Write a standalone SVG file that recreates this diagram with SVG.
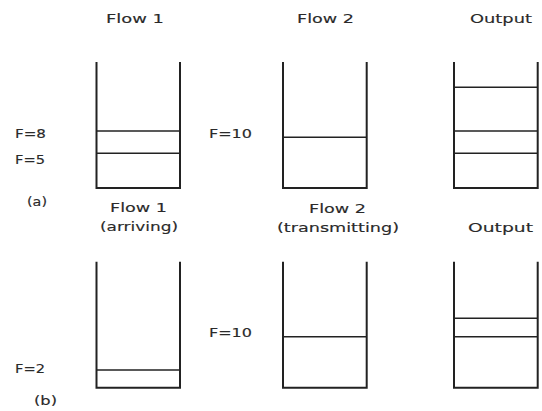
<svg xmlns="http://www.w3.org/2000/svg" width="542" height="411" viewBox="0 0 542 411">
  <style>
    .buf { fill: none; stroke: #222; stroke-width: 2; stroke-linejoin: miter; stroke-linecap: butt; }
    .pkt { stroke: #222; stroke-width: 1.6; }
    text { font-family: "DejaVu Sans", "Liberation Sans", sans-serif; font-size: 13px; fill: #2a2a2a; stroke: #2a2a2a; stroke-width: 0.15; }
  </style>
  <rect width="542" height="411" fill="#ffffff"/>

  <!-- (a) row -->
  <g id="flow1-a">
    <text x="106" y="23" textLength="58" lengthAdjust="spacingAndGlyphs">Flow 1</text>
    <path class="buf" d="M96.5,62 V188 H180 V62"/>
    <line class="pkt" x1="96.5" y1="131" x2="180" y2="131"/>
    <line class="pkt" x1="96.5" y1="153.3" x2="180" y2="153.3"/>
    <text x="15" y="138" textLength="31" lengthAdjust="spacingAndGlyphs">F=8</text>
    <text x="15" y="164" textLength="30" lengthAdjust="spacingAndGlyphs">F=5</text>
  </g>
  <g id="flow2-a">
    <text x="297" y="23" textLength="57" lengthAdjust="spacingAndGlyphs">Flow 2</text>
    <path class="buf" d="M283,62 V188 H366.7 V62"/>
    <line class="pkt" x1="283" y1="137.3" x2="366.7" y2="137.3"/>
    <text x="209" y="138" textLength="43" lengthAdjust="spacingAndGlyphs">F=10</text>
  </g>
  <g id="output-a">
    <text x="470" y="23" textLength="62" lengthAdjust="spacingAndGlyphs">Output</text>
    <path class="buf" d="M454,62 V188 H537.7 V62"/>
    <line class="pkt" x1="454" y1="87.3" x2="537.7" y2="87.3"/>
    <line class="pkt" x1="454" y1="131" x2="537.7" y2="131"/>
    <line class="pkt" x1="454" y1="153.3" x2="537.7" y2="153.3"/>
  </g>
  <text id="label-a" x="27" y="206" textLength="20" lengthAdjust="spacingAndGlyphs">(a)</text>

  <!-- (b) row -->
  <g id="flow1-b">
    <text x="110" y="212" textLength="57" lengthAdjust="spacingAndGlyphs">Flow 1</text>
    <text x="100" y="231" textLength="78" lengthAdjust="spacingAndGlyphs">(arriving)</text>
    <path class="buf" d="M96.5,261.7 V387.7 H180 V261.7"/>
    <line class="pkt" x1="96.5" y1="370" x2="180" y2="370"/>
    <text x="15" y="372.7" textLength="30" lengthAdjust="spacingAndGlyphs">F=2</text>
  </g>
  <g id="flow2-b">
    <text x="309" y="213" textLength="57" lengthAdjust="spacingAndGlyphs">Flow 2</text>
    <text x="277" y="232" textLength="122" lengthAdjust="spacingAndGlyphs">(transmitting)</text>
    <path class="buf" d="M283,261.7 V387.7 H366.7 V261.7"/>
    <line class="pkt" x1="283" y1="336.7" x2="366.7" y2="336.7"/>
    <text x="209" y="337" textLength="43" lengthAdjust="spacingAndGlyphs">F=10</text>
  </g>
  <g id="output-b">
    <text x="468" y="231.5" textLength="65" lengthAdjust="spacingAndGlyphs">Output</text>
    <path class="buf" d="M454,261.7 V387.7 H537.7 V261.7"/>
    <line class="pkt" x1="454" y1="318.3" x2="537.7" y2="318.3"/>
    <line class="pkt" x1="454" y1="336.7" x2="537.7" y2="336.7"/>
  </g>
  <text id="label-b" x="34" y="405" textLength="23" lengthAdjust="spacingAndGlyphs">(b)</text>

  <g id="connectors"/>
</svg>
